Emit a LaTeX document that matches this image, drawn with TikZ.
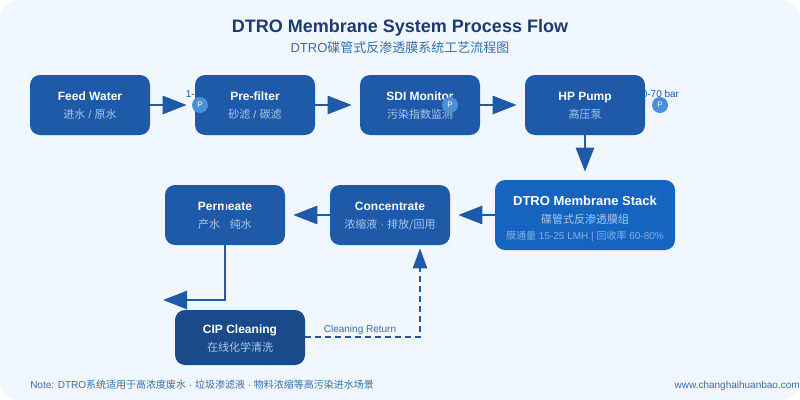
\documentclass[tikz,border=0pt]{standalone}
\usepackage{fontspec}
\setmainfont{Liberation Sans}
\newfontfamily\cjk{Noto Sans CJK SC}
\usetikzlibrary{arrows.meta}
\usetikzlibrary{calc}

\definecolor{pagebg}{HTML}{F0F7FF}
\definecolor{boxblue}{HTML}{1E5AA8}
\definecolor{stackblue}{HTML}{1565C0}
\definecolor{cipblue}{HTML}{1A4A8A}
\definecolor{titleblue}{HTML}{1E3A6E}
\definecolor{subblue}{HTML}{3A6EA8}
\definecolor{paleblue}{HTML}{A8C8F0}
\definecolor{dimblue}{HTML}{7FB0E8}
\definecolor{pumpblue}{HTML}{4A90D9}

\tikzset{
	procbox/.style={fill=boxblue, rounded corners=7.5pt, minimum width=90pt, minimum height=45pt, inner sep=0pt},
	boxname/.style={inner sep=0pt, anchor=base, text=white, font=\fontsize{9}{11}\bfseries\selectfont},
	boxsub/.style={inner sep=0pt, anchor=base, text=paleblue, font=\fontsize{8.25}{10}\selectfont},
	flowline/.style={draw=boxblue, line width=1.9pt, -{Triangle[length=18pt,width=13.5pt]}, shorten >=6pt},
	returnline/.style={draw=boxblue, line width=1.5pt, dash pattern=on 4.5pt off 3pt, -{Triangle[length=15pt,width=10.5pt]}, shorten >=2.25pt},
	pumpdot/.style={circle, fill=pumpblue, minimum size=12pt, inner sep=0pt, text=white, font=\fontsize{6}{6}\selectfont},
	smalltag/.style={inner sep=0pt, anchor=base west, text=boxblue, font=\fontsize{7.5}{8}\selectfont}
}

\begin{document}
\begin{tikzpicture}[x=0.75pt, y=-0.75pt]

	\useasboundingbox (0, 0) rectangle (800, 400);
	\fill[white] (0, 0) rectangle (800, 400);
	\fill[pagebg] (0, 0) [rounded corners=15pt] rectangle (800, 400);

	% title
	\node[inner sep=0pt, anchor=base, text=titleblue, font=\fontsize{13.5}{16}\bfseries\selectfont] (title) at (400, 32.5) {DTRO Membrane System Process Flow};
	\node[inner sep=0pt, anchor=base, text=subblue, font=\fontsize{9.75}{12}\selectfont] (subtitle) at (400, 52) {DTRO{\cjk 碟管式反渗透膜系统工艺流程图}};

	% pressure tags, the boxes sit on top of them
	\node[smalltag] (tagone) at (185.5, 97) {1-5 bar};
	\node[smalltag] (tagtwo) at (636, 97) {60-70 bar};

	% boxes
	\node[procbox] (feed) at (90, 105) {};
	\node[boxname] (feedname) at (90, 100) {Feed Water};
	\node[boxsub] (feedsub) at (90, 118) {{\cjk 进水} / {\cjk 原水}};

	\node[procbox] (filter) at (255, 105) {};
	\node[boxname] (filtername) at (255, 100) {Pre-filter};
	\node[boxsub] (filtersub) at (255, 118) {{\cjk 砂滤} / {\cjk 碳滤}};

	\node[procbox] (sdi) at (420, 105) {};
	\node[boxname] (sdiname) at (420, 100) {SDI Monitor};
	\node[boxsub] (sdisub) at (420, 118) {{\cjk 污染指数监测}};

	\node[procbox] (pump) at (585, 105) {};
	\node[boxname] (pumpname) at (585, 100) {HP Pump};
	\node[boxsub] (pumpsub) at (585, 118) {{\cjk 高压泵}};

	\node[procbox, fill=stackblue, minimum width=135pt, minimum height=52.5pt] (stack) at (585, 215) {};
	\node[boxname, font=\fontsize{9.75}{12}\bfseries\selectfont] (stackname) at (585, 205) {DTRO Membrane Stack};
	\node[boxsub] (stackzh) at (585, 223) {{\cjk 碟管式反渗透膜组}};
	\node[boxsub, text=dimblue, font=\fontsize{7.5}{9}\selectfont] (stackdata) at (585, 239) {{\cjk 膜通量} 15-25 LMH | {\cjk 回收率} 60-80\%};

	\node[procbox] (conc) at (390, 215) {};
	\node[boxname] (concname) at (390, 210) {Concentrate};
	\node[boxsub] (concsub) at (390, 228) {{\cjk 浓缩液} · {\cjk 排放/回用}};

	\node[procbox] (perm) at (225, 215) {};
	\node[boxname] (permname) at (225, 210) {Permeate};
	\node[boxsub] (permsub) at (225, 228) {{\cjk 产水} · {\cjk 纯水}};

	\node[procbox, fill=cipblue, minimum width=97.5pt, minimum height=41.25pt] (cip) at (240, 337.5) {};
	\node[boxname] (cipname) at (240, 333) {CIP Cleaning};
	\node[boxsub] (cipsub) at (240, 351) {{\cjk 在线化学清洗}};

	\coordinate (permtop) at (225, 201);
	\coordinate (permout) at (163, 300);
	\coordinate (retcorner) at (420, 337);

	% connectors
	\draw[flowline] (feed) -- (filter);
	\draw[flowline] (filter) -- (sdi);
	\draw[flowline] (sdi) -- (pump);
	\draw[flowline] (pump) -- (pump |- stack.north);
	\draw[flowline] (stack) -- (conc);
	\draw[flowline] (conc) -- (perm);
	\draw[flowline, shorten >=0pt] (permtop) -- (permtop |- permout) -- (permout);
	\draw[returnline] (cip.east |- retcorner) -- (retcorner) -- (retcorner |- conc.south);

	% pump dots
	\node[pumpdot] (dotone) at (200, 105) {P};
	\node[pumpdot] (dottwo) at (450, 105) {P};
	\node[pumpdot] (dotthree) at (660, 105) {P};

	\node[inner sep=0pt, anchor=base, text=subblue, font=\fontsize{7.5}{9}\selectfont] (returntag) at (360, 332) {Cleaning Return};

	% footer
	\node[inner sep=0pt, anchor=base west, text=subblue, font=\fontsize{7.5}{9}\selectfont] (note) at (30, 388) {Note: DTRO{\cjk 系统适用于高浓度废水} · {\cjk 垃圾渗滤液} · {\cjk 物料浓缩等高污染进水场景}};
	\node[inner sep=0pt, anchor=base east, text=subblue, font=\fontsize{7.5}{9}\selectfont] (site) at (800, 388) {www.changhaihuanbao.com};

\end{tikzpicture}
\end{document}
